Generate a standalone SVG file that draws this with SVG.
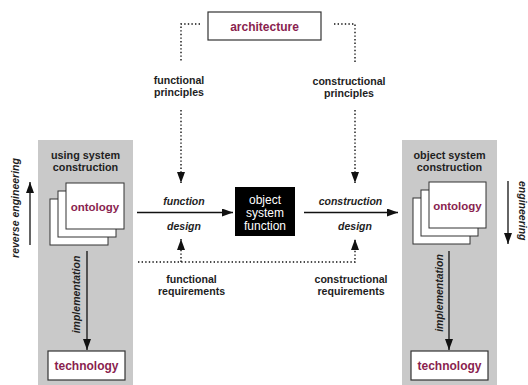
<svg xmlns="http://www.w3.org/2000/svg" width="528" height="385" viewBox="0 0 528 385">
<style>
text{font-family:"Liberation Sans",Arial,sans-serif;font-weight:bold;fill:#1e1e1e}
.lbl{font-size:10.6px;text-anchor:middle}
.it{font-size:10.5px;font-style:italic;text-anchor:middle}
.title{font-size:10.8px;text-anchor:middle}
.mar{fill:#8a1f4f;text-anchor:middle}
.wt{fill:#fff;font-weight:normal;font-size:12px;text-anchor:middle}
.gray{fill:#c9c9c9}
.page{fill:#fff;stroke:#333;stroke-width:1}
.box{fill:#fff;stroke:#333;stroke-width:1.2}
.solid{fill:none;stroke:#111;stroke-width:1.3}
.dot{fill:none;stroke:#111;stroke-width:1.4;stroke-dasharray:1.4 2.2}
</style>
<defs>
<marker id="ah" markerUnits="userSpaceOnUse" markerWidth="11" markerHeight="8" refX="11" refY="4" orient="auto">
<path d="M0,0 L11,4 L0,8 z" fill="#111"/>
</marker>
</defs>

<g id="architecture">
<rect class="box" x="208" y="12" width="113" height="28"/>
<text class="mar" x="264.5" y="30.5" font-size="12">architecture</text>
</g>

<g id="functional-principles">
<text class="lbl" x="179" y="84">functional</text>
<text class="lbl" x="179" y="96">principles</text>
</g>
<g id="constructional-principles">
<text class="lbl" x="349" y="85">constructional</text>
<text class="lbl" x="349" y="97">principles</text>
</g>

<g id="using-system">
<rect class="gray" x="38" y="140" width="95" height="245"/>
<text class="title" x="85.5" y="158.5">using system</text>
<text class="title" x="85.5" y="170.5">construction</text>
<rect class="page" x="50" y="199" width="58" height="46"/>
<rect class="page" x="58" y="191" width="58" height="46"/>
<rect class="page" x="66" y="183" width="58" height="46"/>
<text class="mar" x="95" y="210.5" font-size="11.5">ontology</text>
</g>
<g id="technology-left">
<rect class="box" x="48" y="351" width="77" height="29"/>
<text class="mar" x="86.5" y="370" font-size="12">technology</text>
</g>

<g id="object-system">
<rect class="gray" x="402" y="140" width="95" height="245"/>
<text class="title" x="449.5" y="158.5">object system</text>
<text class="title" x="449.5" y="170.5">construction</text>
<rect class="page" x="413" y="198" width="57" height="46"/>
<rect class="page" x="421" y="190" width="57" height="46"/>
<rect class="page" x="429" y="182" width="57" height="46"/>
<text class="mar" x="457.5" y="209.5" font-size="11.5">ontology</text>
</g>
<g id="technology-right">
<rect class="box" x="411" y="351" width="77" height="29"/>
<text class="mar" x="449.5" y="370" font-size="12">technology</text>
</g>

<g id="object-system-function">
<rect x="235" y="187" width="60" height="49" fill="#000"/>
<text class="wt" x="265" y="204">object</text>
<text class="wt" x="265" y="217">system</text>
<text class="wt" x="265" y="230">function</text>
</g>

<g id="functional-requirements">
<text class="lbl" x="191.5" y="283">functional</text>
<text class="lbl" x="191.5" y="295">requirements</text>
</g>
<g id="constructional-requirements">
<text class="lbl" x="351" y="283">constructional</text>
<text class="lbl" x="351" y="295">requirements</text>
</g>

<g id="connectors">
<path class="dot" d="M200,24 H181 V62"/>
<path class="dot" d="M334,24 H355 V62"/>
<path class="dot" d="M181,110 V183" marker-end="url(#ah)"/>
<path class="dot" d="M355,110 V183" marker-end="url(#ah)"/>
<path class="solid" d="M137,212.5 H233" marker-end="url(#ah)"/>
<path class="solid" d="M304,212.5 H398" marker-end="url(#ah)"/>
<path class="dot" d="M138,262 H355 V239" marker-end="url(#ah)"/>
<path class="dot" d="M181,262 V239" marker-end="url(#ah)"/>
<path class="solid" d="M30,245 V182" marker-end="url(#ah)"/>
<path class="solid" d="M508,181 V244" marker-end="url(#ah)"/>
<path class="solid" d="M87,251 V350" marker-end="url(#ah)"/>
<path class="solid" d="M449,251 V350" marker-end="url(#ah)"/>
<text class="it" x="184" y="205">function</text>
<text class="it" x="184" y="229.5">design</text>
<text class="it" x="350.5" y="205">construction</text>
<text class="it" x="355" y="229.5">design</text>
<text class="it" font-size="11" transform="translate(19,208) rotate(-90)">reverse engineering</text>
<text class="it" font-size="10" style="text-anchor:start" transform="translate(519,181) rotate(90)">engineering</text>
<text class="it" font-size="11" transform="translate(80,294.5) rotate(-90)">implementation</text>
<text class="it" font-size="11" transform="translate(443,293) rotate(-90)">implementation</text>
</g>
</svg>
